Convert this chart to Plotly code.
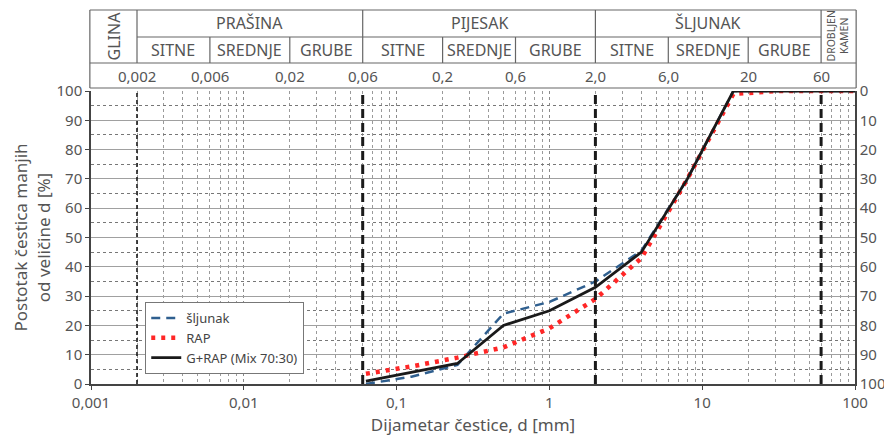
import math
import plotly.graph_objects as go

# ---- data ----
sieve_mm = [0.063, 0.125, 0.25, 0.5, 1, 2, 4, 8, 16, 31.5, 63, 100]
sljunak = [0, 2.5, 6.5, 24, 28, 35, 45.5, 70, 100, 100, 100, 100]
rap = [3.5, 6, 9, 12.5, 19, 29, 43, 70, 99, 100, 100, 100]
mix = [1, 4, 7, 20, 25, 33, 45, 70, 100, 100, 100, 100]

x_ticks = [0.001, 0.01, 0.1, 1, 10, 100]
x_ticktext = ["0,001", "0,01", "0,1", "1", "10", "100"]
y_ticks = list(range(0, 101, 10))

# classification table
main_bounds = [0.002, 0.06, 2, 60]
sub_bounds = [0.006, 0.02, 0.2, 0.6, 6, 20]
bound_labels = ["0,002", "0,006", "0,02", "0,06", "0,2", "0,6", "2,0", "6,0", "20", "60"]
bound_values = [0.002, 0.006, 0.02, 0.06, 0.2, 0.6, 2, 6, 20, 60]
groups = [("PRAŠINA", 0.002, 0.06), ("PIJESAK", 0.06, 2), ("ŠLJUNAK", 2, 60)]
subgroups = [("SITNE", 0.002, 0.006), ("SREDNJE", 0.006, 0.02), ("GRUBE", 0.02, 0.06),
             ("SITNE", 0.06, 0.2), ("SREDNJE", 0.2, 0.6), ("GRUBE", 0.6, 2),
             ("SITNE", 2, 6), ("SREDNJE", 6, 20), ("GRUBE", 20, 60)]

FONT = "Noto Sans"
TXT = "#555555"
LINE = "#666666"

fig = go.Figure()
fig.add_trace(go.Scatter(x=sieve_mm, y=sljunak, name="šljunak", mode="lines",
                         line=dict(color="#2f5f8f", width=2.5, dash="9px,6px")))
fig.add_trace(go.Scatter(x=sieve_mm, y=rap, name="RAP", mode="lines",
                         line=dict(color="#ff2626", width=4.5, dash="4px,6px")))
fig.add_trace(go.Scatter(x=sieve_mm, y=mix, name="G+RAP (Mix 70:30)", mode="lines",
                         line=dict(color="#1a1a1a", width=2.8)))
# helper trace so the right axis renders
fig.add_trace(go.Scatter(x=[1], y=[50], yaxis="y2", mode="markers",
                         marker=dict(opacity=0), showlegend=False, hoverinfo="skip"))

# vertical boundary lines in plot
for b in main_bounds:
    thin = b == 0.002
    fig.add_shape(type="line", xref="x", yref="y", x0=b, x1=b, y0=0, y1=100,
                  line=dict(color="#1a1a1a", width=1.6 if thin else 3,
                            dash="4px,3px" if thin else "9px,5px"), layer="above")

# table geometry (paper coordinates)
Y_TOP, Y_R1, Y_R2, Y_R3 = 1.2765, 1.1843, 1.0956, 1.0102
lw = 1.2
def hline(x0, x1, y, xref="paper"):
    fig.add_shape(type="line", xref=xref, yref="paper", x0=x0, x1=x1, y0=y, y1=y,
                  line=dict(color=LINE, width=lw))
def vline(x, y0, y1, xref="x"):
    fig.add_shape(type="line", xref=xref, yref="paper", x0=x, x1=x, y0=y0, y1=y1,
                  line=dict(color=LINE, width=lw))

hline(-0.0015, 1.0015, Y_TOP)
hline(main_bounds[0], main_bounds[-1], Y_R1, xref="x")
hline(-0.0015, 1.0015, Y_R2)
hline(-0.0015, 1.0015, Y_R3)
vline(-0.0015, Y_R3, Y_TOP, xref="paper")
vline(1.0015, Y_R3, Y_TOP, xref="paper")
for b in main_bounds:
    vline(b, Y_R2, Y_TOP)
for b in sub_bounds:
    vline(b, Y_R2, Y_R1)

def lg(v):
    return math.log10(v)

HF = 16
ann = []
for name, a, b in groups:
    ann.append(dict(x=(lg(a) + lg(b)) / 2, y=(Y_TOP + Y_R1) / 2, text=name,
                    font=dict(size=HF, color=TXT)))
for name, a, b in subgroups:
    ann.append(dict(x=(lg(a) + lg(b)) / 2, y=(Y_R1 + Y_R2) / 2, text=name,
                    font=dict(size=HF, color=TXT)))
for lab, v in zip(bound_labels, bound_values):
    ann.append(dict(x=lg(v), y=(Y_R2 + Y_R3) / 2, text=lab,
                    font=dict(size=15, color=TXT)))
ann.append(dict(x=(lg(0.001) + lg(0.002)) / 2, y=(Y_TOP + Y_R2) / 2, text="GLINA",
                textangle=-90, font=dict(size=HF, color=TXT)))
ann.append(dict(x=(lg(60) + lg(100)) / 2, y=(Y_TOP + Y_R2) / 2, text="DROBLJEN<br>KAMEN",
                textangle=-90, font=dict(size=10.5, color=TXT)))
for a in ann:
    a.update(xref="x", yref="paper", showarrow=False, xanchor="center", yanchor="middle")
    fig.add_annotation(**a)

# page body has an 8px margin, so the figure is sized/margined to land on the window grid
fig.update_layout(
    width=884, height=435,
    margin=dict(l=83, r=37, t=83, b=59, autoexpand=False),
    paper_bgcolor="white", plot_bgcolor="white",
    font=dict(family=FONT, color=TXT, size=15),
    showlegend=True,
    legend=dict(x=0.071, y=0.28, xanchor="left", yanchor="top",
                bgcolor="white", bordercolor="#777", borderwidth=1,
                font=dict(size=13, color="#444"), tracegroupgap=0,
                itemwidth=30),
    xaxis=dict(type="log", range=[-3, 2], tickmode="array", tickvals=x_ticks,
               ticktext=x_ticktext, showgrid=True, gridcolor="#8a8a8a", griddash="dot",
               gridwidth=1, showline=True, linecolor="#444", linewidth=1.5,
               ticks="outside", ticklen=4, tickcolor="#444", mirror=False,
               automargin=False,
               minor=dict(dtick="D1", showgrid=True, gridcolor="#9a9a9a", griddash="dot",
                          gridwidth=1),
               title=dict(text="Dijametar čestice, d [mm]", font=dict(size=17), standoff=8),
               tickfont=dict(size=15), zeroline=False),
    yaxis=dict(range=[0, 100], tickvals=y_ticks, showgrid=True, gridcolor="#a0a0a0",
               gridwidth=1.3, showline=True, linecolor="#444", linewidth=1.5,
               ticks="outside", ticklen=4, tickcolor="#444", automargin=False,
               minor=dict(dtick=5, showgrid=True, gridcolor="#777", griddash="dot", gridwidth=1),
               title=dict(text="Postotak čestica manjih<br>od veličine d [%]",
                          font=dict(size=17), standoff=2),
               tickfont=dict(size=15), zeroline=False),
    yaxis2=dict(range=[100, 0], overlaying="y", side="right", tickvals=y_ticks,
                showgrid=False, showline=True, linecolor="#444", linewidth=1.5,
                automargin=False, ticks="", tickfont=dict(size=15), zeroline=False),
)

fig.write_html("out.html")
